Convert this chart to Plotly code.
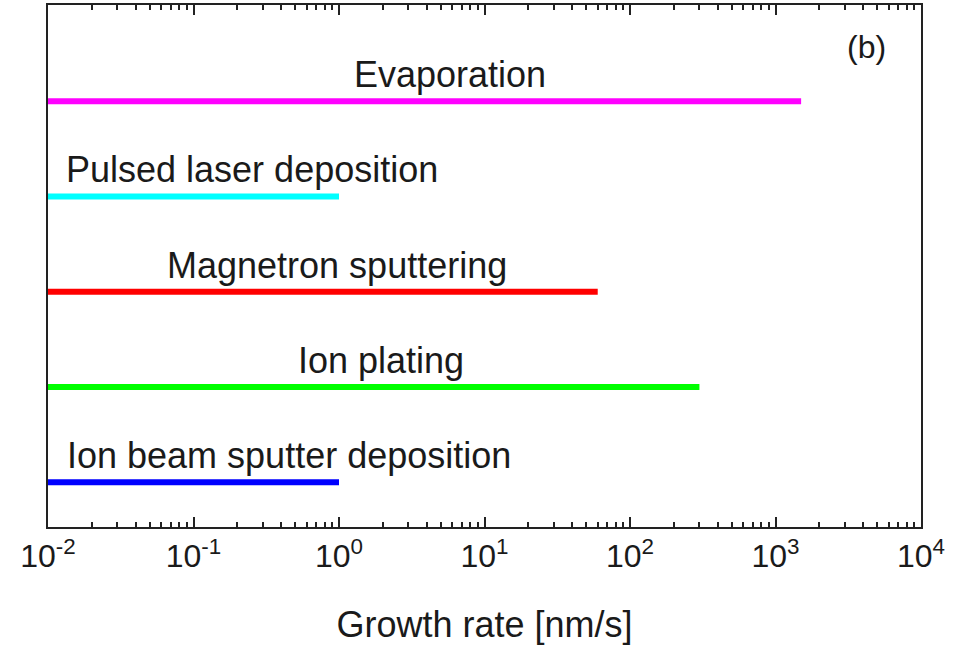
import plotly.graph_objects as go

# ---- data ----
methods = ["Evaporation", "Pulsed laser deposition", "Magnetron sputtering",
           "Ion plating", "Ion beam sputter deposition"]
rate_min = [0.01, 0.01, 0.01, 0.01, 0.01]          # nm/s
rate_max = [1500, 1.0, 60, 300, 1.0]                # nm/s
row_pos = [5, 4, 3, 2, 1]
colors = ["#ff00ff", "#00ffff", "#ff0000", "#00ff00", "#0000ff"]

tick_vals = [1e-2, 1e-1, 1e0, 1e1, 1e2, 1e3, 1e4]
tick_text = ["10<sup>-2</sup>", "10<sup>-1</sup>", "10<sup>0</sup>", "10<sup>1</sup>",
             "10<sup>2</sup>", "10<sup>3</sup>", "10<sup>4</sup>"]
minor_vals = [k * 10.0 ** e for e in range(-2, 4) for k in range(2, 10)]

# label centre positions (log10 units) -- layout only
label_x_log = [0.766, -0.600, -0.015, 0.288, -0.345]

FONT = "Liberation Sans, Arial, sans-serif"
TXT = "#1a1a1a"
AX = "#222222"

fig = go.Figure()
for m, lo, hi, y, c in zip(methods, rate_min, rate_max, row_pos, colors):
    fig.add_trace(go.Scatter(x=[lo, hi], y=[y, y], mode="lines",
                             line=dict(color=c, width=6), name=m,
                             showlegend=False, hoverinfo="skip"))

for m, lx, y in zip(methods, label_x_log, row_pos):
    fig.add_annotation(x=lx, y=y, xref="x", yref="y", text=m, showarrow=False,
                       xanchor="center", yanchor="bottom", yshift=4,
                       font=dict(family=FONT, size=36, color=TXT))

fig.add_annotation(x=0.962, y=0.92, xref="paper", yref="paper", text="(b)",
                   showarrow=False, xanchor="right", yanchor="middle",
                   font=dict(family=FONT, size=32, color=TXT))

fig.update_xaxes(type="log", range=[-2, 4], tickmode="array", tickvals=tick_vals,
                 ticktext=tick_text, ticks="inside", ticklen=10, tickwidth=2,
                 tickcolor=AX, showline=True, linecolor=AX, linewidth=2,
                 mirror="ticks", showgrid=False, zeroline=False, automargin=False,
                 tickfont=dict(family=FONT, size=32, color=TXT),
                 minor=dict(tickmode="array", tickvals=minor_vals, ticks="inside",
                            ticklen=5, tickwidth=1.5, tickcolor=AX, showgrid=False),
                 title=dict(text="Growth rate [nm/s]", standoff=38,
                            font=dict(family=FONT, size=36, color=TXT)))
fig.update_yaxes(range=[0.53, 6.01], showline=True, linecolor=AX, linewidth=2,
                 mirror=True, showticklabels=False, ticks="", showgrid=False,
                 zeroline=False, automargin=False)

fig.update_layout(width=964, height=647, margin=dict(l=48, r=43, t=5, b=120),
                  plot_bgcolor="white", paper_bgcolor="white")

fig.write_html("out.html", config={"displayModeBar": False},
               post_script="document.body.style.margin='0';document.body.style.overflow='hidden';")
